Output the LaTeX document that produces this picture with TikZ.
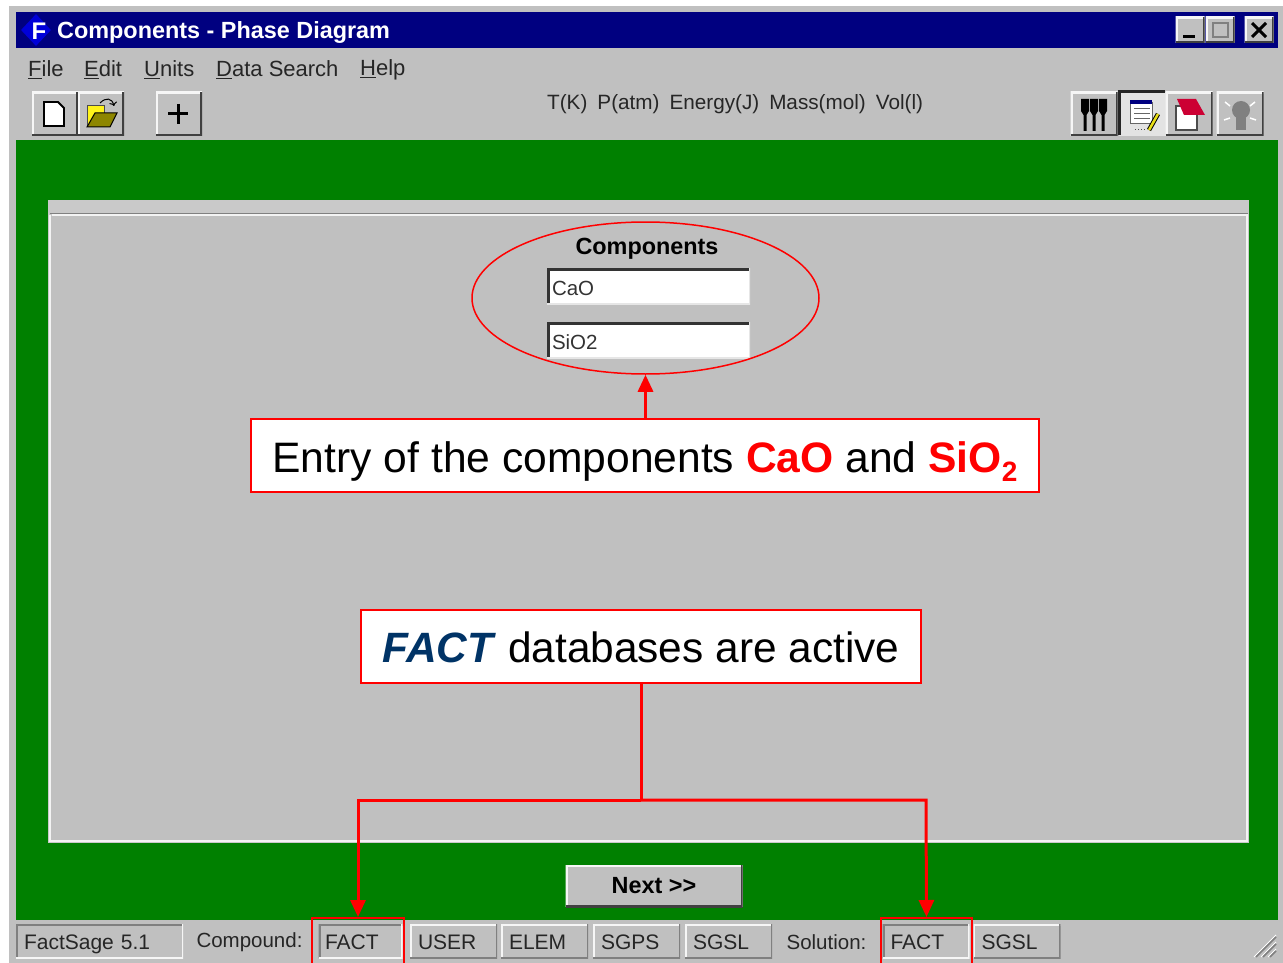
\documentclass[tikz,border=0pt]{standalone}
\usepackage{fontspec}
\setmainfont{Liberation Sans}
\usepackage{xcolor}
\usetikzlibrary{positioning}
\usetikzlibrary{arrows.meta}
\usetikzlibrary{shapes.geometric}

\definecolor{wingray}{RGB}{192,192,192}
\definecolor{winnavy}{RGB}{0,0,128}
\definecolor{wingreen}{RGB}{0,128,0}
\definecolor{winshade}{RGB}{128,128,128}
\definecolor{factblue}{RGB}{0,51,102}
\definecolor{calloutred}{RGB}{255,0,0}

\newcommand{\px}[1]{\fontsize{#1}{#1}\selectfont}
\newcommand{\uln}[1]{\underline{#1}}

\tikzset{
    winbtn/.style={rectangle, fill=wingray, inner sep=0pt, outer sep=0pt,
        path picture={
            \draw[white!85!wingray, line width=4pt] (path picture bounding box.south west) -- (path picture bounding box.north west) -- (path picture bounding box.north east);
            \draw[black!75, line width=4pt] (path picture bounding box.south west) -- (path picture bounding box.south east) -- (path picture bounding box.north east);
        }},
    softbtn/.style={rectangle, fill=wingray, inner sep=0pt, outer sep=0pt, text height=20pt, text depth=3pt,
        minimum width=87pt, minimum height=34pt, text width=71pt, text=black!85, font=\px{21},
        path picture={
            \draw[white!85!wingray, line width=3pt] (path picture bounding box.south west) -- (path picture bounding box.north west) -- (path picture bounding box.north east);
            \draw[winshade, line width=3pt] (path picture bounding box.south west) -- (path picture bounding box.south east) -- (path picture bounding box.north east);
        }},
    sunkbtn/.style={rectangle, fill=wingray, inner sep=0pt, outer sep=0pt, text height=20pt, text depth=3pt,
        minimum width=87pt, minimum height=34pt, text width=71pt, text=black!85, font=\px{21},
        path picture={
            \draw[winshade, line width=4pt] (path picture bounding box.south west) -- (path picture bounding box.north west) -- (path picture bounding box.north east);
            \draw[white!85!wingray, line width=3pt] (path picture bounding box.south west) -- (path picture bounding box.south east) -- (path picture bounding box.north east);
        }},
    field/.style={rectangle, fill=white, inner sep=0pt, outer sep=0pt, minimum width=203pt, minimum height=36pt,
        text width=193pt, text height=20pt, text depth=1pt, text=black!80, font=\px{20.5},
        path picture={
            \draw[black!80, line width=5pt] (path picture bounding box.south west) -- (path picture bounding box.north west) -- (path picture bounding box.north east);
            \draw[wingray!40!white, line width=3pt] (path picture bounding box.south west) -- (path picture bounding box.south east) -- (path picture bounding box.north east);
        }},
    wintext/.style={inner sep=0pt, text=black!85, font=\px{22}},
    callout/.style={rectangle, draw=calloutred, line width=1.5pt, fill=white, inner sep=0pt, text depth=0pt, font=\px{42.6}},
    redline/.style={calloutred, line width=3pt},
    redarrow/.style={redline, -{Triangle[width=15pt,length=17pt]}},
    tabmark/.style={rectangle, draw=calloutred, line width=2pt, inner sep=0pt}
}

\begin{document}
\begin{tikzpicture}[x=1pt, y=-1pt]
    % Page and window frame
    \fill[white] (0,0) rectangle (1283,963);
    \useasboundingbox (0,0) rectangle (1283,963);
    \fill[wingray] (9,6) rectangle (1283,963);
    \fill[winnavy] (16,12) rectangle (1278,48);
    \fill[wingreen] (16,140) rectangle (1278,920);

    % Title bar
    \node[diamond, fill=blue!85!black, minimum width=30pt, minimum height=32pt, inner sep=0pt] (appicon) at (36,30) {};
    \node[inner sep=0pt, text=white, font=\px{24}\bfseries] (appletter) at (39,31) {F};
    \node[inner sep=0pt, anchor=west, text=white, font=\px{23.4}\bfseries] (wintitle) at (57,32.5) {Components - Phase Diagram};
    \node[winbtn, minimum width=29pt, minimum height=26pt] (minbtn) at (1190,30) {};
    \node[winbtn, minimum width=29pt, minimum height=26pt] (maxbtn) at (1220,30) {};
    \node[winbtn, minimum width=29pt, minimum height=26pt] (closebtn) at (1259,30) {};
    \draw[black, line width=3pt] (1183,37) -- (1195,37);
    \draw[winshade, line width=2pt] (1213,23) rectangle (1228,37);
    \draw[black, line width=3pt] (1252,23) -- (1266,37) (1266,23) -- (1252,37);

    % Menu
    \node[wintext, anchor=west] (mfile) at (28,70) {\uln{F}ile};
    \node[wintext, anchor=west] (medit) at (84,70) {\uln{E}dit};
    \node[wintext, anchor=west] (munits) at (144,70) {\uln{U}nits};
    \node[wintext, anchor=west] (mdata) at (216,70) {\uln{D}ata Search};
    \node[wintext, anchor=west] (mhelp) at (360,70) {\uln{H}elp};
    \node[wintext, font=\px{20.7}, anchor=west] (unitsline) at (547,104) {T(K)\hspace{10pt}P(atm)\hspace{10pt}Energy(J)\hspace{10pt}Mass(mol)\hspace{10pt}Vol(l)};

    % Toolbar, left
    \foreach \nm/\xc in {newbtn/55, openbtn/101, plusbtn/179}
        \node[winbtn, minimum width=46pt, minimum height=44pt] (\nm) at (\xc,114) {};
    \filldraw[fill=white, draw=black, line width=1.8pt] (44,102) -- (58,102) -- (64,108) -- (64,126) -- (44,126) -- cycle;
    \filldraw[fill=yellow!90!white, draw=black!70, line width=1pt] (87,127) -- (87,106) -- (104,106) -- (104,127) -- cycle;
    \filldraw[fill=olive, draw=black, line width=1pt] (87,127) -- (95,113) -- (117,113) -- (110,127) -- cycle;
    \draw[black, line width=1pt, ->] (100,103) .. controls (106,97) and (112,98) .. (114,106);
    \draw[black, line width=3pt] (168,114) -- (188,114) (178,104) -- (178,124);

    % Toolbar, right
    \node[winbtn, minimum width=47pt, minimum height=44pt] (toolsbtn) at (1094,114) {};
    \node[rectangle, fill=wingray!45!white, minimum width=47pt, minimum height=44pt, inner sep=0pt] (tablebtn) at (1142,114) {};
    \draw[black!85, line width=3pt] (1119,135) -- (1119,92) -- (1165,92);
    \node[winbtn, minimum width=47pt, minimum height=44pt] (notebtn) at (1189,114) {};
    \node[winbtn, minimum width=47pt, minimum height=44pt] (bulbbtn) at (1240,114) {};
    % fork and knife shapes
    \foreach \xc in {1085,1094,1103} {
        \fill[black] (\xc-4,99) -- (\xc+4,99) -- (\xc+4,111) -- (\xc+1.5,115) -- (\xc+1.5,131) -- (\xc-1.5,131) -- (\xc-1.5,115) -- (\xc-4,111) -- cycle;
    }
    \filldraw[fill=white, draw=black!60, line width=1pt] (1130,103) rectangle (1152,124);
    \fill[winnavy] (1130,100) rectangle (1152,104);
    \draw[black!60, line width=1pt] (1134,109) -- (1150,109) (1134,114) -- (1150,114) (1134,119) -- (1150,119);
    \draw[black, line width=4.5pt] (1149,130) -- (1158,114);
    \draw[yellow!90!black, line width=2.5pt] (1149,130) -- (1158,114);
    \draw[black!70, dotted, line width=1pt] (1135,130) -- (1146,130);
    \filldraw[fill=white, draw=black!70, line width=1.2pt] (1176,106) rectangle (1197,130);
    \fill[purple!80!red] (1177,99) -- (1196,99) -- (1205,115) -- (1184,115) -- cycle;
    \fill[winshade] (1241,110) circle (9pt);
    \fill[winshade] (1236,115) rectangle (1246,130);
    \draw[white, line width=1.5pt] (1225,102) -- (1230,106) (1255,102) -- (1250,106) (1224,120) -- (1230,118) (1256,120) -- (1250,118);

    % Panel
    \fill[wingray!85!white] (48,200) rectangle (1249,843);
    \fill[wingray] (51,216) rectangle (1246,840);
    \draw[white!80!wingray, line width=2pt] (52,215) -- (1247,215) -- (1247,841) -- (50,841) -- (50,215);
    \draw[winshade, line width=1pt] (50,213) -- (1248,213);

    % Components entry
    \node[inner sep=0pt, text=black, font=\px{23.4}\bfseries] (comptitle) at (647,249) {Components};
    \node[field] (cao) at (648.5,286) {CaO};
    \node[field] (sio) at (648.5,340) {SiO2};
    \node[ellipse, draw=calloutred, line width=1.5pt, minimum width=347pt, minimum height=152pt, inner sep=0pt] (compring) at (645.5,298) {};

    % Next button
    \node[winbtn, minimum width=177pt, minimum height=42pt, text=black, font=\px{23.4}\bfseries] (nextbtn) at (654,886) {Next >{}>};

    % Status bar
    \node[sunkbtn, minimum width=167pt, text width=151pt] (version) at (99.5,941) {FactSage 5.1};
    \node[wintext, font=\px{20.5}] (compound) at (249.5,942) {Compound:};
    \node[sunkbtn, minimum width=84pt] (cfact) at (360.5,941) {FACT};
    \foreach \nm/\lb/\xc in {cuser/USER/453.5, celem/ELEM/544.5, csgps/SGPS/636.5, csgsl/SGSL/728.5}
        \node[softbtn] (\nm) at (\xc,941) {\lb};
    \node[wintext, font=\px{20.5}] (solution) at (826.5,942) {Solution:};
    \node[sunkbtn] (sfact) at (926,941) {FACT};
    \node[softbtn] (ssgsl) at (1017,941) {SGSL};
    \foreach \off in {0,7,14} {
        \draw[white, line width=1pt] (1254+\off,957) -- (1276,935+\off);
        \draw[winshade, line width=1.5pt] (1256+\off,957) -- (1276,937+\off);
    }

    % Marks round the two active tabs
    \node[tabmark, minimum width=92pt, minimum height=50pt] (cmark) at (358,943) {};
    \node[tabmark, minimum width=91pt, minimum height=50pt] (smark) at (926.5,943) {};

    % Callouts
    \node[callout, text height=33pt, minimum width=788pt, minimum height=73pt] (entrynote) at (645,455.5) {Entry of the components \textcolor{calloutred}{\textbf{CaO}} and \textcolor{calloutred}{\textbf{SiO\raisebox{-0.22em}{\px{28}2}}}};
    \node[callout, text height=32pt, minimum width=560pt, minimum height=73pt, font=\px{42.4}] (factnote) at (641,646.5) {\textcolor{factblue}{\textbf{\textit{FACT}}} databases are active};

    % Connectors
    \coordinate (split) at (641,800);
    \coordinate (cturn) at (358,800);
    \coordinate (sturn) at (926,800);
    \draw[redarrow] (entrynote.north -| compring.south) -- (compring.south);
    \draw[redline] (factnote.south) -- (split);
    \draw[redarrow] (split) -- (cturn) -- (cmark.north);
    \draw[redarrow] (split) -- (sturn) -- (smark.north);
\end{tikzpicture}
\end{document}
